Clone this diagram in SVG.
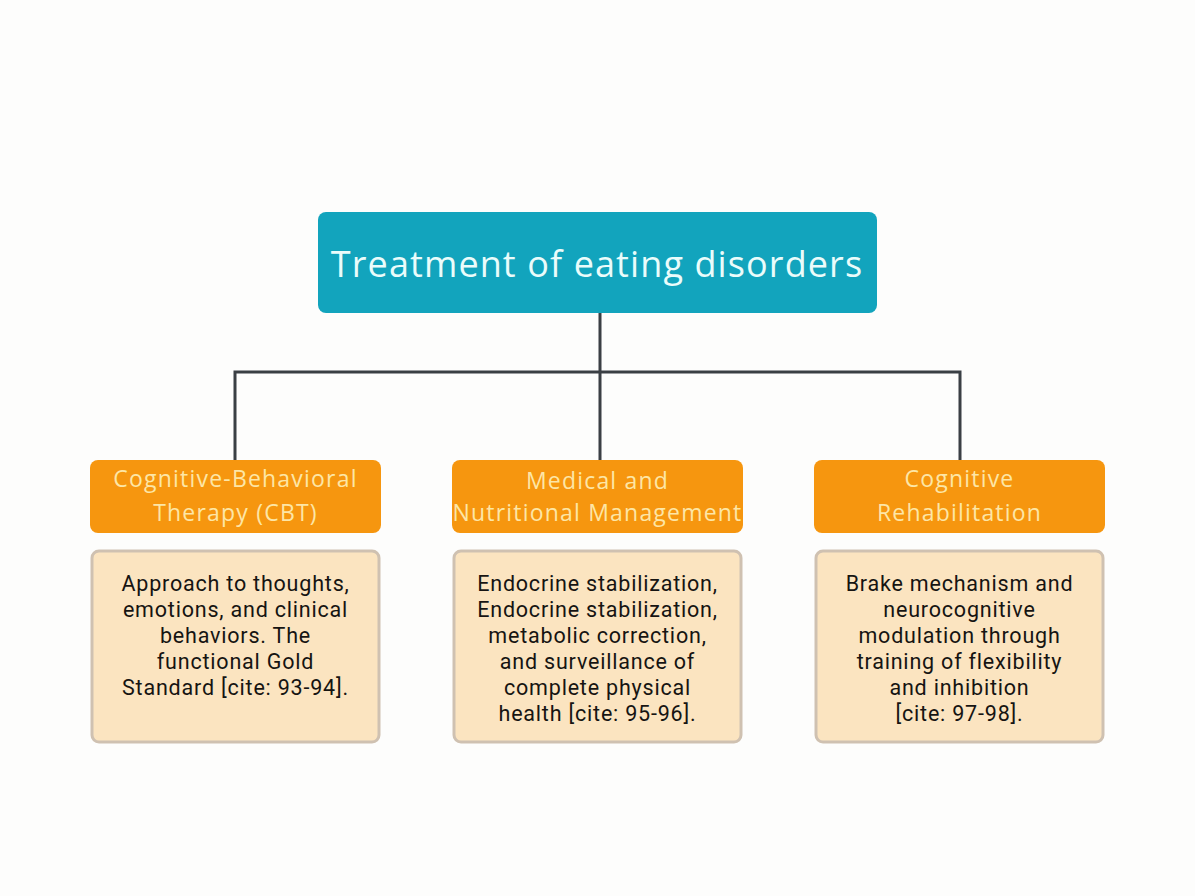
<svg xmlns="http://www.w3.org/2000/svg" width="1195" height="896" viewBox="0 0 1195 896">
<style>
.bg{fill:#fdfdfc}
.root{fill:#12a4bd}
.roott{font-family:"Open Sans","Liberation Sans",sans-serif;font-size:36px;fill:#eafcfb;text-anchor:middle;letter-spacing:1.1px}
.cat{fill:#f6960f}
.catt{font-family:"Open Sans","Liberation Sans",sans-serif;font-size:23px;fill:#fde6a6;text-anchor:middle;letter-spacing:1.2px}
.desc{fill:#fbe4c0;stroke:#cfc1b1;stroke-width:3}
.desct{font-family:Roboto,"Liberation Sans",sans-serif;font-size:21.5px;fill:#161412;text-anchor:middle;letter-spacing:0.8px}
.conn{fill:none;stroke:#3a3f44;stroke-width:3}
</style>
<rect class="bg" x="0" y="0" width="1195" height="896"/>
<g id="connectors">
<path class="conn" d="M600 313 V372 M235 460 V372 H960 V460 M600 372 V460"/>
</g>
<g id="root">
<rect class="root" x="318" y="212" width="559" height="101" rx="8"/>
<text class="roott" x="597" y="277">Treatment of eating disorders</text>
</g>
<g id="cbt">
<rect class="cat" x="90" y="460" width="291" height="73" rx="8"/>
<text class="catt" x="235.5" y="487">Cognitive-Behavioral</text>
<text class="catt" x="235.5" y="521">Therapy (CBT)</text>
</g>
<g id="cbt-desc">
<rect class="desc" x="92" y="551" width="287" height="191" rx="7"/>
<text class="desct" x="235.5" y="591">Approach to thoughts,</text>
<text class="desct" x="235.5" y="617">emotions, and clinical</text>
<text class="desct" x="235.5" y="643">behaviors. The</text>
<text class="desct" x="235.5" y="669">functional Gold</text>
<text class="desct" x="235.5" y="695">Standard [cite: 93-94].</text>
</g>
<g id="medical">
<rect class="cat" x="452" y="460" width="291" height="73" rx="8"/>
<text class="catt" x="597.5" y="489">Medical and</text>
<text class="catt" x="597.5" y="521">Nutritional Management</text>
</g>
<g id="medical-desc">
<rect class="desc" x="454" y="551" width="287" height="191" rx="7"/>
<text class="desct" x="597.5" y="591">Endocrine stabilization,</text>
<text class="desct" x="597.5" y="617">Endocrine stabilization,</text>
<text class="desct" x="597.5" y="643">metabolic correction,</text>
<text class="desct" x="597.5" y="669">and surveillance of</text>
<text class="desct" x="597.5" y="695">complete physical</text>
<text class="desct" x="597.5" y="721">health [cite: 95-96].</text>
</g>
<g id="rehab">
<rect class="cat" x="814" y="460" width="291" height="73" rx="8"/>
<text class="catt" x="959.5" y="487">Cognitive</text>
<text class="catt" x="959.5" y="521">Rehabilitation</text>
</g>
<g id="rehab-desc">
<rect class="desc" x="816" y="551" width="287" height="191" rx="7"/>
<text class="desct" x="959.5" y="591">Brake mechanism and</text>
<text class="desct" x="959.5" y="617">neurocognitive</text>
<text class="desct" x="959.5" y="643">modulation through</text>
<text class="desct" x="959.5" y="669">training of flexibility</text>
<text class="desct" x="959.5" y="695">and inhibition</text>
<text class="desct" x="959.5" y="721">[cite: 97-98].</text>
</g>
</svg>
